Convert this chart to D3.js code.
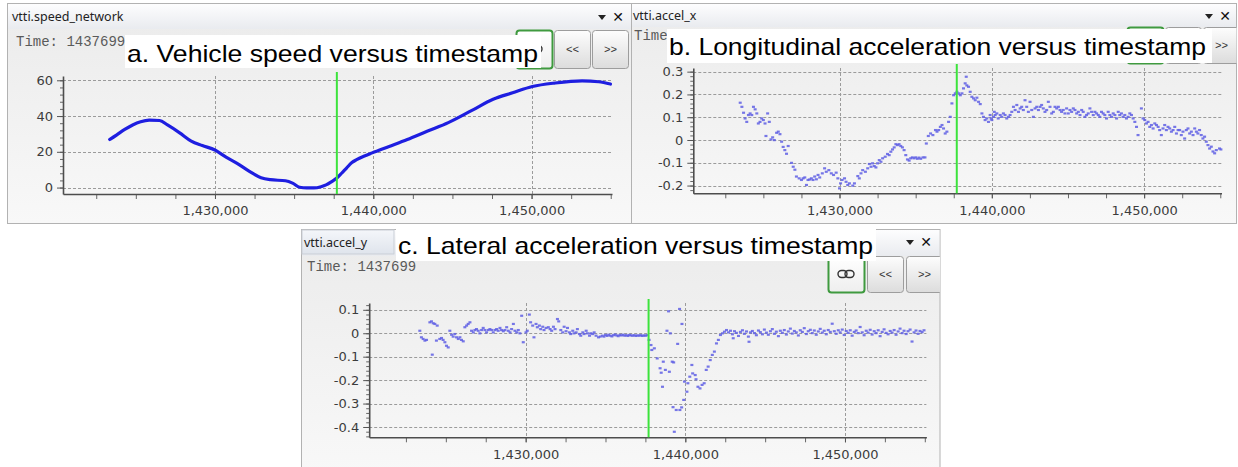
<!DOCTYPE html>
<html>
<head>
<meta charset="utf-8">
<script src="https://cdn.jsdelivr.net/npm/d3@7"></script>
<style>
  html, body { margin: 0; padding: 0; background: #ffffff; }
  svg { display: block; }
</style>
</head>
<body>
<svg id="chart" width="1238" height="467"></svg>
<script>
// ---------------- data ----------------
const cursorTime = 1437699;
const timeTicks = [1430000, 1440000, 1450000];
const speedTicks = [0, 20, 40, 60];
const accelXTicks = [-0.2, -0.1, 0, 0.1, 0.2, 0.3];
const accelYTicks = [-0.4, -0.3, -0.2, -0.1, 0, 0.1];
const panelTitles = ["vtti.speed_network", "vtti.accel_x", "vtti.accel_y"];
const captions = [
  "a. Vehicle speed versus timestamp",
  "b. Longitudinal acceleration versus timestamp",
  "c. Lateral acceleration versus timestamp"
];

// vehicle speed [timestamp, speed]
const speedNetwork = [
  [1423350, 26.9], [1423800, 29.5], [1424300, 32.5], [1424800, 35.0], [1425300, 36.8],
  [1425850, 37.7], [1426500, 37.5], [1427000, 35.0], [1427770, 30.6], [1428500, 26.0],
  [1429200, 23.5], [1430000, 21.0], [1430700, 17.0], [1431370, 13.7], [1432100, 9.5],
  [1432910, 5.5], [1433500, 4.4], [1434450, 3.8], [1434900, 2.5], [1435350, 0.2],
  [1435800, -0.2], [1436250, -0.2], [1436700, 0.5], [1437020, 1.5], [1437400, 3.5],
  [1437699, 5.3], [1438000, 8.0], [1438310, 10.9], [1438650, 14.0], [1438950, 15.6],
  [1439400, 17.5], [1439930, 19.4], [1441000, 23.0], [1442150, 26.9], [1443400, 31.5],
  [1444740, 36.3], [1446200, 43.0], [1447570, 49.4], [1448800, 53.0], [1450050, 56.5],
  [1451500, 58.5], [1453190, 59.7], [1454240, 59.2], [1454980, 57.9]
];

// longitudinal acceleration [timestamp, g]
const accelX = [
  [1423480, 0.164], [1423590, 0.146], [1423700, 0.120], [1423800, 0.095], [1423910, 0.080],
  [1424020, 0.110], [1424130, 0.117], [1424240, 0.110], [1424350, 0.146], [1424460, 0.135],
  [1424570, 0.117], [1424670, 0.073], [1424780, 0.080], [1424890, 0.095], [1425000, 0.088],
  [1425110, 0.073], [1425170, 0.018], [1425280, 0.117], [1425390, 0.080], [1425500, 0.003],
  [1425610, 0.012], [1425720, 0.000], [1425870, 0.032], [1425980, 0.037], [1426090, 0.026],
  [1426200, -0.007], [1426300, -0.030], [1426410, -0.044], [1426520, -0.060], [1426630, -0.026],
  [1426850, -0.100], [1426960, -0.117], [1427070, -0.130], [1427170, -0.160], [1427350, -0.168],
  [1427500, -0.175], [1427610, -0.168], [1427720, -0.164], [1427830, -0.197], [1427930, -0.175],
  [1428040, -0.173], [1428150, -0.168], [1428260, -0.175], [1428370, -0.160], [1428480, -0.172],
  [1428590, -0.153], [1428700, -0.164], [1428870, -0.146], [1429020, -0.124], [1429130, -0.139],
  [1429300, -0.132], [1429460, -0.146], [1429610, -0.153], [1429780, -0.143], [1429890, -0.168],
  [1430000, -0.212], [1430070, -0.190], [1430170, -0.175], [1430330, -0.168], [1430430, -0.183],
  [1430540, -0.197], [1430650, -0.190], [1430870, -0.200], [1430980, -0.190], [1431200, -0.158],
  [1431300, -0.168], [1431410, -0.146], [1431520, -0.132], [1431700, -0.139], [1431850, -0.124],
  [1431960, -0.105], [1432070, -0.117], [1432170, -0.102], [1432280, -0.114], [1432390, -0.120],
  [1432500, -0.102], [1432610, -0.088], [1432720, -0.095], [1432830, -0.080], [1433000, -0.073],
  [1433150, -0.061], [1433260, -0.066], [1433370, -0.051], [1433480, -0.041], [1433590, -0.032],
  [1433700, -0.018], [1433800, -0.022], [1433910, -0.018], [1434020, -0.026], [1434130, -0.032],
  [1434240, -0.044], [1434350, -0.066], [1434460, -0.085], [1434570, -0.090], [1434670, -0.080],
  [1434780, -0.076], [1434890, -0.080], [1435000, -0.076], [1435110, -0.082], [1435220, -0.077],
  [1435330, -0.082], [1435480, -0.076], [1435610, -0.076], [1435700, -0.015], [1435830, 0.018],
  [1435980, 0.029], [1436130, 0.022], [1436300, 0.044], [1436400, 0.037], [1436510, 0.044],
  [1436620, 0.058], [1436730, 0.066], [1436830, 0.051], [1436940, 0.029], [1437050, 0.037],
  [1437160, 0.080], [1437270, 0.102], [1437380, 0.161], [1437490, 0.197], [1437600, 0.205],
  [1437710, 0.212], [1437820, 0.205], [1437930, 0.197], [1438040, 0.205], [1438140, 0.227],
  [1438250, 0.249], [1438320, 0.278], [1438360, 0.240], [1438470, 0.234], [1438580, 0.212],
  [1438690, 0.190], [1438800, 0.183], [1438910, 0.175], [1439020, 0.186], [1439130, 0.168],
  [1439240, 0.158], [1439350, 0.117], [1439450, 0.102], [1439560, 0.088], [1439670, 0.095],
  [1439780, 0.080], [1439890, 0.110], [1439950, 0.095], [1440000, 0.088], [1440110, 0.102],
  [1440160, 0.124], [1440220, 0.110], [1440330, 0.117], [1440420, 0.095], [1440550, 0.110],
  [1440650, 0.102], [1440760, 0.117], [1440870, 0.110], [1440980, 0.095], [1441090, 0.102],
  [1441200, 0.110], [1441310, 0.124], [1441420, 0.146], [1441530, 0.132], [1441640, 0.154],
  [1441750, 0.124], [1441860, 0.139], [1441960, 0.146], [1442070, 0.132], [1442180, 0.175],
  [1442290, 0.146], [1442400, 0.124], [1442510, 0.168], [1442620, 0.132], [1442730, 0.102],
  [1442840, 0.139], [1442950, 0.146], [1443060, 0.132], [1443170, 0.146], [1443270, 0.154],
  [1443380, 0.139], [1443490, 0.124], [1443600, 0.132], [1443710, 0.168], [1443820, 0.146],
  [1443930, 0.117], [1444040, 0.124], [1444150, 0.146], [1444260, 0.139], [1444370, 0.146],
  [1444480, 0.132], [1444580, 0.124], [1444690, 0.132], [1444800, 0.117], [1444910, 0.139],
  [1445020, 0.117], [1445130, 0.132], [1445240, 0.124], [1445350, 0.139], [1445460, 0.132],
  [1445570, 0.117], [1445680, 0.124], [1445790, 0.110], [1445900, 0.132], [1446000, 0.124],
  [1446110, 0.102], [1446220, 0.110], [1446330, 0.117], [1446440, 0.139], [1446550, 0.124],
  [1446660, 0.110], [1446770, 0.124], [1446880, 0.117], [1446990, 0.110], [1447090, 0.102],
  [1447200, 0.124], [1447310, 0.117], [1447420, 0.110], [1447530, 0.095], [1447640, 0.124],
  [1447750, 0.110], [1447860, 0.102], [1447970, 0.117], [1448080, 0.110], [1448190, 0.095],
  [1448300, 0.124], [1448400, 0.110], [1448510, 0.117], [1448620, 0.102], [1448730, 0.110],
  [1448840, 0.095], [1448950, 0.102], [1449060, 0.117], [1449170, 0.110], [1449280, 0.095],
  [1449390, 0.080], [1449500, 0.058], [1449600, 0.022], [1449820, 0.139], [1449930, 0.095],
  [1450040, 0.088], [1450150, 0.073], [1450260, 0.080], [1450370, 0.058], [1450480, 0.066],
  [1450590, 0.051], [1450700, 0.073], [1450810, 0.066], [1450920, 0.058], [1451020, 0.044],
  [1451130, 0.022], [1451240, 0.051], [1451350, 0.066], [1451460, 0.044], [1451570, 0.058],
  [1451680, 0.051], [1451790, 0.037], [1451900, 0.044], [1452010, 0.058], [1452120, 0.029],
  [1452230, 0.044], [1452330, 0.044], [1452440, 0.022], [1452550, 0.037], [1452660, 0.007],
  [1452770, 0.044], [1452880, 0.051], [1452990, 0.029], [1453100, 0.037], [1453210, 0.022],
  [1453320, 0.051], [1453430, 0.037], [1453530, 0.029], [1453640, 0.044], [1453750, 0.022],
  [1453860, 0.007], [1453970, 0.015], [1454080, -0.007], [1454190, -0.022], [1454300, -0.037],
  [1454410, -0.029], [1454520, -0.050], [1454630, -0.058], [1454740, -0.044], [1454950, -0.037],
  [1455040, -0.041]
];

// lateral acceleration [timestamp, g]
const accelY = [
  [1423370, 0.011], [1423470, -0.017], [1423580, -0.024], [1423690, -0.031], [1423790, -0.028],
  [1424000, 0.047], [1424100, 0.051], [1424150, -0.091], [1424210, 0.043], [1424310, 0.040],
  [1424410, -0.031], [1424460, 0.033], [1424620, -0.024], [1424730, -0.020], [1424830, -0.028],
  [1424940, -0.038], [1425040, -0.053], [1425150, -0.060], [1425250, 0.011], [1425360, -0.006],
  [1425460, -0.014], [1425560, -0.003], [1425670, -0.017], [1425780, -0.024], [1425880, -0.017],
  [1425980, -0.028], [1426090, -0.034], [1426190, 0.026], [1426300, 0.033], [1426400, 0.040],
  [1426510, 0.047], [1426610, 0.011], [1426720, 0.004], [1426820, 0.014], [1426920, 0.018],
  [1427030, 0.011], [1427130, 0.000], [1427240, 0.014], [1427340, 0.023], [1427450, 0.014],
  [1427550, 0.004], [1427660, 0.014], [1427760, 0.018], [1427870, 0.014], [1427970, 0.004],
  [1428080, 0.014], [1428180, 0.018], [1428280, 0.011], [1428390, 0.023], [1428490, 0.014],
  [1428600, 0.009], [1428700, 0.014], [1428810, 0.026], [1428910, 0.011], [1429020, 0.004],
  [1429120, 0.018], [1429230, 0.040], [1429330, 0.011], [1429440, 0.004], [1429540, 0.014],
  [1429640, 0.000], [1429750, 0.075], [1429850, -0.038], [1430020, 0.004], [1430100, 0.011],
  [1430230, 0.080], [1430310, 0.047], [1430440, 0.033], [1430520, -0.017], [1430650, 0.040],
  [1430730, 0.026], [1430860, 0.033], [1430940, 0.018], [1431070, 0.028], [1431150, 0.014],
  [1431280, 0.023], [1431420, 0.026], [1431530, 0.018], [1431630, 0.011], [1431740, 0.028],
  [1431840, 0.018], [1431990, 0.061], [1432070, 0.051], [1432200, 0.014], [1432320, 0.004],
  [1432410, 0.028], [1432530, 0.009], [1432620, 0.023], [1432740, 0.004], [1432820, -0.003],
  [1432950, 0.011], [1433030, 0.000], [1433160, 0.004], [1433240, 0.018], [1433370, -0.003],
  [1433450, -0.010], [1433580, 0.004], [1433660, -0.003], [1433790, 0.011], [1433870, 0.000],
  [1434000, -0.010], [1434080, 0.000], [1434200, -0.003], [1434290, 0.004], [1434410, -0.010],
  [1434560, -0.017], [1434670, -0.014], [1434800, -0.010], [1434900, -0.014], [1435000, -0.007],
  [1435100, -0.011], [1435200, -0.006], [1435300, -0.010], [1435400, -0.013], [1435500, -0.008],
  [1435600, -0.005], [1435700, -0.009], [1435800, -0.012], [1435900, -0.007], [1436000, -0.009],
  [1436100, -0.006], [1436200, -0.010], [1436300, -0.008], [1436400, -0.011], [1436500, -0.007],
  [1436600, -0.009], [1436700, -0.010], [1436800, -0.008], [1436900, -0.011], [1437000, -0.009],
  [1437100, -0.010], [1437200, -0.008], [1437300, -0.011], [1437400, -0.009], [1437500, -0.010],
  [1437600, -0.008], [1437730, -0.028], [1437850, -0.050], [1437900, -0.071], [1438060, -0.064],
  [1438240, -0.107], [1438420, -0.149], [1438490, -0.168], [1438570, -0.228], [1438620, -0.121],
  [1438750, -0.156], [1438850, 0.011], [1438950, 0.094], [1439000, -0.164], [1439060, 0.000],
  [1439180, -0.121], [1439230, -0.315], [1439270, -0.124], [1439310, -0.420], [1439430, -0.327],
  [1439520, -0.045], [1439640, 0.104], [1439660, -0.327], [1439770, -0.316], [1439790, 0.040],
  [1439900, -0.284], [1439950, -0.206], [1440100, -0.249], [1440160, -0.213], [1440280, -0.185],
  [1440410, -0.135], [1440460, -0.171], [1440620, -0.178], [1440670, -0.196], [1440790, -0.228],
  [1440920, -0.235], [1441050, -0.220], [1441180, -0.213], [1441310, -0.156], [1441430, -0.142],
  [1441560, -0.114], [1441690, -0.092], [1441820, -0.078], [1441950, -0.043], [1442070, -0.028],
  [1442200, -0.007], [1442330, 0.000], [1442450, 0.007], [1442580, 0.014], [1442700, 0.004],
  [1442830, 0.011], [1442950, -0.004], [1443000, -0.021], [1443080, 0.009], [1443200, 0.002],
  [1443330, -0.011], [1443450, 0.006], [1443580, 0.013], [1443700, -0.002], [1443830, 0.008],
  [1443950, -0.014], [1443990, -0.036], [1444080, 0.004], [1444200, 0.010], [1444330, 0.001],
  [1444450, -0.008], [1444580, 0.012], [1444700, 0.005], [1444830, -0.004], [1444950, 0.016],
  [1445080, 0.003], [1445200, -0.006], [1445330, 0.009], [1445450, 0.018], [1445580, -0.002],
  [1445700, 0.007], [1445830, -0.012], [1445950, 0.011], [1446080, 0.002], [1446200, 0.014],
  [1446330, -0.005], [1446450, 0.008], [1446580, 0.020], [1446700, -0.001], [1446830, 0.010],
  [1446950, 0.004], [1447080, -0.009], [1447200, 0.013], [1447330, 0.006], [1447450, 0.022],
  [1447580, -0.003], [1447700, 0.009], [1447830, 0.015], [1447950, 0.001], [1448080, 0.012],
  [1448200, -0.006], [1448330, 0.008], [1448450, 0.019], [1448580, 0.003], [1448700, 0.011],
  [1448830, -0.004], [1448950, 0.014], [1449080, 0.006], [1449200, 0.041], [1449330, 0.009],
  [1449450, -0.002], [1449580, 0.013], [1449700, 0.004], [1449830, 0.016], [1449950, -0.007],
  [1450080, 0.010], [1450200, 0.002], [1450330, 0.013], [1450450, -0.010], [1450580, 0.006],
  [1450700, 0.012], [1450830, 0.001], [1450950, 0.027], [1451080, 0.004], [1451200, -0.008],
  [1451330, 0.011], [1451450, 0.003], [1451580, 0.015], [1451700, -0.005], [1451830, 0.009],
  [1451950, 0.001], [1452080, 0.013], [1452200, -0.012], [1452330, 0.006], [1452450, 0.017],
  [1452580, 0.002], [1452700, -0.004], [1452830, 0.010], [1452950, 0.003], [1453080, 0.014],
  [1453200, -0.006], [1453330, 0.008], [1453450, 0.020], [1453580, 0.001], [1453700, 0.011],
  [1453830, -0.003], [1453950, 0.009], [1454080, 0.016], [1454200, -0.035], [1454330, 0.004],
  [1454450, 0.012], [1454580, -0.002], [1454700, 0.010], [1454830, 0.005], [1454950, 0.013]
];

// ---------------- layout ----------------
const panels = [
  {
    title: panelTitles[0], caption: captions[0], data: speedNetwork, kind: "line",
    win: { x: 7.5, y: 3.5, w: 624, h: 220, head: 25 },
    titlePos: [12, 21], closePos: [602, 17], timePos: [16, 46], timeText: `Time: ${cursorTime}`,
    buttons: { x: 516, y: 30, w: 36, h: 38, gap: 2 },
    captionBox: { x: 125, y: 35, w: 416, h: 33, tx: 127, ty: 62, tw: 411 },
    plot: { x0: 63, x1: 612, yb: 194, yt: 76 },
    xDomain: [1420400, 1455080], yDomain: [-3.6, 62.4],
    yTicks: speedTicks, yMinorStep: 4, fmt: d => String(d)
  },
  {
    title: panelTitles[1], caption: captions[1], data: accelX, kind: "dots",
    win: { x: 631.5, y: 3.5, w: 605, h: 220, head: 23 },
    // only the start of the readout shows beside the caption box
    titlePos: [633, 20], closePos: [1209, 16], timePos: [634, 40], timeText: "Time",
    buttons: { x: 1127, y: 27, w: 36, h: 36, gap: 2 },
    captionBox: { x: 667, y: 29, w: 545, h: 34, tx: 669, ty: 55, tw: 537 },
    plot: { x0: 693.3, x1: 1221.5, yb: 193.3, yt: 68 },
    xDomain: [1420400, 1455080], yDomain: [-0.234, 0.316],
    yTicks: accelXTicks, yMinorStep: 0.02, fmt: d => d === 0 ? "0" : d.toFixed(1)
  },
  {
    title: panelTitles[2], caption: captions[2], data: accelY, kind: "dots",
    win: { x: 301.5, y: 229.5, w: 638.5, h: 245, head: 26 },
    titlePos: [304, 247], closePos: [910, 242], timePos: [307, 271], timeText: `Time: ${cursorTime}`,
    buttons: { x: 828, y: 256, w: 36, h: 36, gap: 3 },
    captionBox: { x: 396, y: 228, w: 480, h: 33, tx: 398, ty: 254, tw: 475 },
    plot: { x0: 369.2, x1: 926.4, yb: 437.3, yt: 303 },
    xDomain: [1420200, 1455100], yDomain: [-0.444, 0.129],
    yTicks: accelYTicks, yMinorStep: 0.02, fmt: d => d === 0 ? "0" : d.toFixed(1),
    tab: true
  }
];

const svg = d3.select("#chart");
const defs = svg.append("defs");

function vGrad(id, stops) {
  const g = defs.append("linearGradient").attr("id", id)
    .attr("x1", 0).attr("y1", 0).attr("x2", 0).attr("y2", 1);
  stops.forEach(([o, c]) => g.append("stop").attr("offset", o).attr("stop-color", c));
}
vGrad("bodyGrad", [[0, "#ebebeb"], [1, "#f8f8f8"]]);
vGrad("headGrad", [[0, "#fdfdfe"], [1, "#e9ebef"]]);
vGrad("tabGrad", [[0, "#f4f6fa"], [1, "#dfe4ec"]]);
vGrad("btnGrad", [[0, "#fdfdfd"], [1, "#dcdcdc"]]);
vGrad("btnGreenGrad", [[0, "#ffffff"], [1, "#eeeeee"]]);

const tickFont = "'DejaVu Sans', Verdana, sans-serif";

function drawButton(g, x, y, w, h, green, label) {
  g.append("rect")
    .attr("x", x + 0.5).attr("y", y + 0.5).attr("width", w).attr("height", h)
    .attr("rx", 3).attr("ry", 3)
    .attr("fill", green ? "url(#btnGreenGrad)" : "url(#btnGrad)")
    .attr("stroke", green ? "#3f9a3f" : "#9d9d9d")
    .attr("stroke-width", green ? 2 : 1);
  if (green) {
    // chain-link glyph
    const cx = x + w / 2, cy = y + h / 2;
    const link = g.append("g").attr("fill", "none").attr("stroke", "#333").attr("stroke-width", 1.4);
    link.append("rect").attr("x", cx - 8).attr("y", cy - 3.5).attr("width", 9).attr("height", 7).attr("rx", 3.5);
    link.append("rect").attr("x", cx - 1).attr("y", cy - 3.5).attr("width", 9).attr("height", 7).attr("rx", 3.5);
  } else {
    g.append("text").attr("x", x + w / 2 + 0.5).attr("y", y + h / 2 + 4)
      .attr("text-anchor", "middle")
      .attr("font-family", "'Liberation Mono', monospace").attr("font-size", 11)
      .attr("fill", "#333").text(label);
  }
}

function drawPanel(p) {
  const g = svg.append("g");
  const W = p.win;

  // window frame and body
  g.append("rect").attr("x", W.x).attr("y", W.y).attr("width", W.w).attr("height", W.h)
    .attr("fill", "url(#bodyGrad)").attr("stroke", "#b2b2b2");
  g.append("rect").attr("x", W.x + 0.5).attr("y", W.y + 0.5).attr("width", W.w - 1).attr("height", W.head)
    .attr("fill", "url(#headGrad)");
  if (p.tab) {
    g.append("rect").attr("x", W.x + 0.5).attr("y", W.y + 0.5).attr("width", 92).attr("height", W.head - 2)
      .attr("fill", "url(#tabGrad)").attr("stroke", "#c9ced6");
  }

  // title
  g.append("text").attr("x", p.titlePos[0]).attr("y", p.titlePos[1])
    .attr("font-family", "'Noto Sans', 'Open Sans', sans-serif").attr("font-size", 12.5)
    .attr("fill", "#222").text(p.title);

  // pin / close controls
  const [cx, cy] = p.closePos;
  g.append("path").attr("d", `M${cx - 4},${cy - 2}L${cx + 4},${cy - 2}L${cx},${cy + 3}Z`).attr("fill", "#222");
  g.append("text").attr("x", cx + 16).attr("y", cy + 5).attr("text-anchor", "middle")
    .attr("font-family", "'DejaVu Sans', sans-serif").attr("font-weight", "bold")
    .attr("font-size", 14).attr("fill", "#111").text("\u2715");

  // cursor readout
  g.append("text").attr("x", p.timePos[0]).attr("y", p.timePos[1])
    .attr("font-family", "'Liberation Mono', 'DejaVu Sans Mono', monospace").attr("font-size", 14)
    .attr("fill", "#5a5a5a").text(p.timeText);

  // navigation buttons
  const B = p.buttons;
  const bg = g.append("g");
  const clipId = "clip" + Math.round(W.x);
  defs.append("clipPath").attr("id", clipId).append("rect")
    .attr("x", W.x).attr("y", W.y).attr("width", W.w).attr("height", W.h);
  bg.attr("clip-path", `url(#${clipId})`);
  drawButton(bg, B.x, B.y, B.w, B.h, true, "");
  drawButton(bg, B.x + B.w + B.gap, B.y, B.w, B.h, false, "<<");
  drawButton(bg, B.x + 2 * (B.w + B.gap), B.y, B.w, B.h, false, ">>");

  // scales
  const P = p.plot;
  const x = d3.scaleLinear().domain(p.xDomain).range([P.x0, P.x1]);
  const y = d3.scaleLinear().domain(p.yDomain).range([P.yb, P.yt]);

  // dashed grid
  const grid = g.append("g").attr("stroke", "#9b9b9b").attr("stroke-width", 1)
    .attr("stroke-dasharray", "3,2").attr("fill", "none");
  grid.selectAll("line.h").data(p.yTicks).join("line").attr("class", "h")
    .attr("x1", P.x0).attr("x2", P.x1)
    .attr("y1", d => Math.round(y(d)) + 0.5).attr("y2", d => Math.round(y(d)) + 0.5);
  grid.selectAll("line.v").data(timeTicks).join("line").attr("class", "v")
    .attr("x1", d => Math.round(x(d)) + 0.5).attr("x2", d => Math.round(x(d)) + 0.5)
    .attr("y1", P.yt).attr("y2", P.yb);

  // y axis: minor ticks, then labelled major ticks
  const [ylo, yhi] = p.yDomain;
  const s = p.yMinorStep;
  const minorY = d3.range(Math.ceil(ylo / s), Math.floor(yhi / s) + 1).map(i => +(i * s).toFixed(4));
  g.append("g").attr("transform", `translate(${P.x0},0)`)
    .call(d3.axisLeft(y).tickValues(minorY).tickSize(3).tickSizeOuter(0).tickFormat(""))
    .call(a => a.select(".domain").remove())
    .call(a => a.selectAll("line").attr("stroke", "#666"));
  g.append("g").attr("transform", `translate(${P.x0},0)`)
    .call(d3.axisLeft(y).tickValues(p.yTicks).tickSize(6).tickSizeOuter(0).tickPadding(4).tickFormat(p.fmt))
    .call(a => a.select(".domain").attr("stroke", "#4d4d4d").attr("stroke-width", 1.6))
    .call(a => a.selectAll("line").attr("stroke", "#555"))
    .call(a => a.selectAll("text").attr("font-family", tickFont).attr("font-size", 13).attr("fill", "#3c3c3c"));

  // x axis: ticks every 2500, labels on major ticks
  const minorX = d3.range(Math.ceil(p.xDomain[0] / 2500) * 2500, p.xDomain[1], 2500);
  g.append("g").attr("transform", `translate(0,${P.yb})`)
    .call(d3.axisBottom(x).tickValues(minorX).tickSize(5).tickSizeOuter(0).tickFormat(""))
    .call(a => a.select(".domain").remove())
    .call(a => a.selectAll("line").attr("stroke", "#666"));
  g.append("g").attr("transform", `translate(0,${P.yb})`)
    .call(d3.axisBottom(x).tickValues(timeTicks).tickSize(5).tickSizeOuter(0).tickPadding(7).tickFormat(d3.format(",")))
    .call(a => a.select(".domain").attr("stroke", "#4d4d4d").attr("stroke-width", 1.6))
    .call(a => a.selectAll("line").attr("stroke", "#555"))
    .call(a => a.selectAll("text").attr("font-family", tickFont).attr("font-size", 13).attr("fill", "#3c3c3c"));

  // series
  if (p.kind === "line") {
    const line = d3.line().x(d => x(d[0])).y(d => y(d[1])).curve(d3.curveMonotoneX);
    g.append("path").datum(p.data).attr("d", line)
      .attr("fill", "none").attr("stroke", "#1e1ee0").attr("stroke-width", 3.2)
      .attr("stroke-linejoin", "round").attr("stroke-linecap", "round");
  } else {
    g.append("g").selectAll("rect").data(p.data).join("rect")
      .attr("x", d => x(d[0]) - 1.5).attr("y", d => y(d[1]) - 1)
      .attr("width", 3).attr("height", 2.2)
      .attr("fill", "#5f5fe4").attr("opacity", 0.85);
  }

  // time cursor
  g.append("line")
    .attr("x1", x(cursorTime)).attr("x2", x(cursorTime))
    .attr("y1", P.yt - 4).attr("y2", P.yb)
    .attr("stroke", "#3ce33c").attr("stroke-width", 2);
}

panels.forEach(drawPanel);

// caption boxes on top of the windows
panels.forEach(p => {
  const c = p.captionBox;
  svg.append("rect").attr("x", c.x).attr("y", c.y).attr("width", c.w).attr("height", c.h).attr("fill", "#ffffff");
  svg.append("text").attr("x", c.tx).attr("y", c.ty)
    .attr("font-family", "'Liberation Sans', Arial, sans-serif").attr("font-size", 24)
    .attr("textLength", c.tw).attr("lengthAdjust", "spacingAndGlyphs")
    .attr("fill", "#000").text(p.caption);
});
</script>
</body>
</html>
